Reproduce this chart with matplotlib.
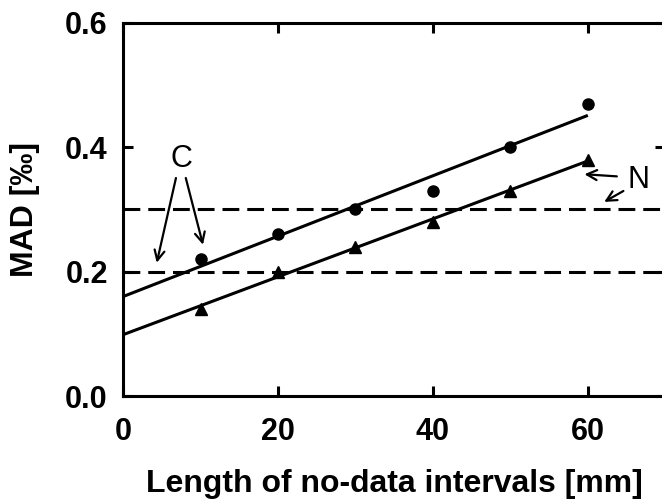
import numpy as np
import matplotlib
matplotlib.use('Agg')
import matplotlib.pyplot as plt

plt.rcParams['font.family'] = ['Liberation Sans', 'DejaVu Sans']

# dados
length_mm = [10, 20, 30, 40, 50, 60]
mad_c = [0.22, 0.26, 0.30, 0.33, 0.40, 0.47]
mad_n = [0.14, 0.20, 0.24, 0.28, 0.33, 0.38]
thresholds = [0.2, 0.3]

fig = plt.figure(figsize=(6.62, 5.0), dpi=100)
ax = fig.add_axes([0.186, 0.208, 0.819, 0.746])

# retas de regressão
x_fit = np.array([0, 60])
for ys in (mad_c, mad_n):
    k, b = np.polyfit(length_mm, ys, 1)
    ax.plot(x_fit, k * x_fit + b, color='black', lw=2.2, solid_capstyle='butt')

ax.plot(length_mm, mad_c, 'o', color='black', ms=8)
ax.plot(length_mm, mad_n, '^', color='black', ms=8)

for t in thresholds:
    ax.axhline(t, color='black', lw=2.2, dashes=(5.5, 2.6))

# anotações
arr = dict(arrowstyle='->', color='black', lw=1.6, mutation_scale=18)
ax.text(7.5, 0.382, 'C', fontsize=22, ha='center', va='center')
ax.annotate('', xy=(4.26, 0.21), xytext=(6.9, 0.355), arrowprops=arr)
ax.annotate('', xy=(10.4, 0.239), xytext=(8.0, 0.355), arrowprops=arr)
ax.text(66.5, 0.347, 'N', fontsize=22, ha='center', va='center')
ax.annotate('', xy=(59.2, 0.357), xytext=(64.1, 0.353), arrowprops=arr)
ax.annotate('', xy=(61.8, 0.310), xytext=(64.9, 0.332), arrowprops=arr)

ax.set_xlim(0, 70)
ax.set_ylim(0, 0.6)
ax.set_xticks([0, 20, 40, 60])
ax.set_yticks([0.0, 0.2, 0.4, 0.6])
ax.set_yticklabels(['0.0', '0.2', '0.4', '0.6'])
ax.tick_params(direction='in', length=7, width=2.2, top=True, right=True,
               labelsize=22)
ax.tick_params(axis='x', pad=15)
ax.tick_params(axis='y', pad=11)
for lab in ax.get_xticklabels() + ax.get_yticklabels():
    lab.set_fontweight('bold')
for sp in ax.spines.values():
    sp.set_linewidth(2.2)

ax.set_xlabel('Length of no-data intervals [mm]', fontsize=23, fontweight='bold', labelpad=16)
ax.set_ylabel('MAD [‰]', fontsize=23, fontweight='bold', labelpad=18)

fig.savefig('out.png', dpi=100)
